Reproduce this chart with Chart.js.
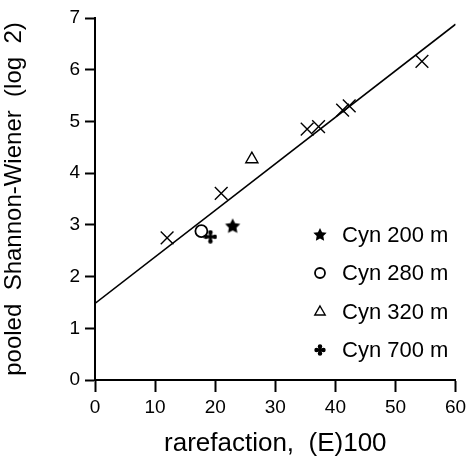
<!DOCTYPE html>
<html>
<head>
<meta charset="utf-8">
<style>
  html, body { margin: 0; padding: 0; background: #fff; }
  #wrap { width: 466px; height: 459px; }
</style>
</head>
<body>
<div id="wrap"><canvas id="chart"></canvas></div>
<script src="https://cdn.jsdelivr.net/npm/chart.js"></script>
<script>
// datos
const xTicks = [0, 10, 20, 30, 40, 50, 60];
const yTicks = [0, 1, 2, 3, 4, 5, 6, 7];

const otherX = [12.0, 21.0, 35.3, 37.2, 41.2, 42.3, 54.4];
const otherY = [2.75, 3.61, 4.85, 4.90, 5.22, 5.30, 6.16];

const cyn200 = [[22.9, 2.97]];
const cyn280 = [[17.7, 2.88]];
const cyn320 = [[26.1, 4.27]];
const cyn700 = [[19.2, 2.77]];

const fitX = [0, 60];
const fitY = [1.48, 6.88];

const legendLabels = ['Cyn 200 m', 'Cyn 280 m', 'Cyn 320 m', 'Cyn 700 m'];

const FONT = '"Liberation Sans", Arial, Helvetica, sans-serif';

// simbolos dibujados a mano
function starIcon(r) {
  const c = document.createElement('canvas');
  c.width = c.height = 2 * r + 2;
  const g = c.getContext('2d');
  g.translate(r + 1, r + 1);
  g.beginPath();
  for (let i = 0; i < 10; i++) {
    const rad = i % 2 ? r * 0.5 : r;
    const a = -Math.PI / 2 + i * Math.PI / 5;
    g.lineTo(rad * Math.cos(a), rad * Math.sin(a));
  }
  g.closePath();
  g.fillStyle = '#000';
  g.fill();
  return c;
}

function plusIcon(r) {
  const c = document.createElement('canvas');
  c.width = c.height = 2 * r + 2;
  const g = c.getContext('2d');
  g.translate(r + 1, r + 1);
  g.fillStyle = '#000';
  g.fillRect(-r, -1.5, 2 * r, 3);
  g.fillRect(-1.5, -r, 3, 2 * r);
  [[-r + 1.5, 0], [r - 1.5, 0], [0, -r + 1.5], [0, r - 1.5]].forEach(([px, py]) => {
    g.beginPath();
    g.arc(px, py, 2.2, 0, Math.PI * 2);
    g.fill();
  });
  return c;
}

const toPts = arr => arr.map(([x, y]) => ({ x, y }));

const datasets = [
  {
    type: 'line',
    data: fitX.map((x, i) => ({ x, y: fitY[i] })),
    borderColor: '#000', borderWidth: 1.6,
    pointRadius: 0, fill: false, showLine: true
  },
  {
    data: otherX.map((x, i) => ({ x, y: otherY[i] })),
    pointStyle: 'crossRot', pointRadius: 9, borderColor: '#000', borderWidth: 1.4
  },
  {
    label: legendLabels[0], data: toPts(cyn200),
    pointStyle: starIcon(8), pointRadius: 8, legendStyle: starIcon(7)
  },
  {
    label: legendLabels[1], data: toPts(cyn280),
    pointStyle: 'circle', pointRadius: 6, borderColor: '#000', borderWidth: 1.8,
    backgroundColor: 'rgba(0,0,0,0)', legendRadius: 5
  },
  {
    label: legendLabels[2], data: toPts(cyn320),
    pointStyle: 'triangle', pointRadius: 7, borderColor: '#000', borderWidth: 1.4,
    backgroundColor: 'rgba(0,0,0,0)', legendRadius: 6
  },
  {
    label: legendLabels[3], data: toPts(cyn700),
    pointStyle: plusIcon(6), pointRadius: 6, legendStyle: plusIcon(5)
  }
];

// leyenda dentro del area del grafico
const insideLegend = {
  id: 'insideLegend',
  afterDraw(chart) {
    const ctx = chart.ctx;
    const rows = [235, 273, 312, 350];
    ctx.save();
    ctx.font = '22px ' + FONT;
    ctx.textBaseline = 'middle';
    chart.data.datasets.filter(d => d.label).forEach((d, i) => {
      ctx.fillStyle = d.legendStyle ? '#000' : 'rgba(0,0,0,0)';
      ctx.strokeStyle = '#000';
      ctx.lineWidth = d.borderWidth || 1;
      Chart.helpers.drawPoint(ctx, {
        pointStyle: d.legendStyle || d.pointStyle,
        radius: d.legendRadius || d.pointRadius,
        borderWidth: d.legendStyle ? 0 : d.borderWidth,
        rotation: 0
      }, 320, rows[i]);
      ctx.fillStyle = '#000';
      ctx.fillText(d.label, 342, rows[i] + 1);
    });
    ctx.restore();
  }
};

new Chart(document.getElementById('chart'), {
  type: 'scatter',
  data: { datasets },
  plugins: [insideLegend],
  options: {
    responsive: true,
    maintainAspectRatio: false,
    animation: false,
    layout: { padding: { top: 18, right: 0, left: 0, bottom: 0 } },
    plugins: { legend: { display: false }, tooltip: { enabled: false } },
    elements: { point: { backgroundColor: '#000', borderColor: '#000' } },
    scales: {
      x: {
        type: 'linear', min: 0, max: 60,
        afterBuildTicks: s => { s.ticks = xTicks.map(v => ({ value: v })); },
        afterFit: s => { s.height = 79; s.paddingRight = 9; },
        grid: { drawOnChartArea: false, tickLength: 12, tickWidth: 2, color: '#000' },
        border: { color: '#000', width: 2 },
        ticks: { color: '#000', padding: 4, font: { family: FONT, size: 19 } },
        title: { display: true, text: 'rarefaction,  (E)100', color: '#000',
                 font: { family: FONT, size: 26 }, padding: { top: 8, bottom: 0 } }
      },
      y: {
        type: 'linear', min: 0, max: 7,
        afterBuildTicks: s => { s.ticks = yTicks.map(v => ({ value: v })); },
        afterFit: s => { s.width = 95; },
        grid: { drawOnChartArea: false, tickLength: 10, tickWidth: 2, color: '#000' },
        border: { color: '#000', width: 2 },
        ticks: { color: '#000', padding: 5, font: { family: FONT, size: 19 } },
        title: { display: true, text: 'pooled  Shannon-Wiener  (log  2)', color: '#000',
                 font: { family: FONT, size: 24 }, padding: { top: 0, bottom: 10 } }
      }
    }
  }
});
</script>
</body>
</html>
